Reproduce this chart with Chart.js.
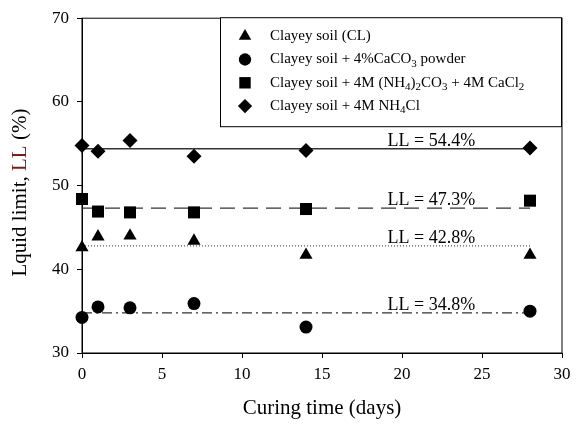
<!DOCTYPE html>
<html>
<head>
<meta charset="utf-8">
<script src="https://cdn.jsdelivr.net/npm/chart.js@4"></script>
<style>
  html, body { margin: 0; padding: 0; background: #fff; }
</style>
</head>
<body>
<canvas id="myChart" width="577" height="425"></canvas>
<script>
// curing time (days) and liquid limit (%) per mix
const days = [0, 1, 3, 7, 14, 28];
const clayeySoil = [42.6, 43.9, 44.0, 43.4, 41.7, 41.7];
const caco3Powder = [34.25, 35.5, 35.4, 35.9, 33.1, 35.0];
const carbonateChloride = [48.4, 46.9, 46.8, 46.8, 47.2, 48.2];
const ammoniumChloride = [54.8, 54.1, 55.4, 53.5, 54.2, 54.5];

// average LL lines, same order as series
const llAverage = [42.8, 34.8, 47.3, 54.4];
const lineSpan = [0, 28];

// "_x" = subscript character
const seriesNames = [
    'Clayey soil (CL)',
    'Clayey soil + 4%CaCO_3 powder',
    'Clayey soil + 4M (NH_4)_2CO_3 + 4M CaCl_2',
    'Clayey soil + 4M NH_4Cl'
];
const seriesValues = [clayeySoil, caco3Powder, carbonateChloride, ammoniumChloride];
const markers = ['triangle', 'circle', 'rect', 'rectRot'];
const markerRadius = [7.6, 6.5, 8.5, 7.5];
const lineDash = [[1, 2], [10, 4, 2, 4], [15, 8], []];

const serif = '"Liberation Serif", "Times New Roman", serif';

const datasets = [];
seriesValues.forEach((vals, i) => {
    datasets.push({
        label: seriesNames[i],
        data: days.map((d, k) => ({ x: d, y: vals[k] })),
        showLine: false,
        pointStyle: markers[i],
        pointRadius: markerRadius[i],
        pointHoverRadius: markerRadius[i],
        pointBackgroundColor: '#000',
        pointBorderWidth: 0,
        clip: false
    });
});
llAverage.forEach((ll, i) => {
    datasets.push({
        label: 'LL = ' + ll + '%',
        data: lineSpan.map(d => ({ x: d, y: ll })),
        showLine: true,
        borderColor: i === 0 ? '#555' : '#333',
        borderWidth: i === 3 ? 1.5 : 1.2,
        borderDash: lineDash[i],
        pointRadius: 0,
        clip: false
    });
});

function drawRich(ctx, text, x, y, size) {
    // draws text with _x subscripts, left aligned
    let cx = x;
    for (let i = 0; i < text.length; i++) {
        if (text[i] === '_' && i + 1 < text.length) {
            ctx.font = Math.round(size * 0.72) + 'px ' + serif;
            ctx.fillText(text[i + 1], cx, y + size * 0.28);
            cx += ctx.measureText(text[i + 1]).width;
            i++;
        } else {
            ctx.font = size + 'px ' + serif;
            ctx.fillText(text[i], cx, y);
            cx += ctx.measureText(text[i]).width;
        }
    }
}

function marker(ctx, style, r, x, y) {
    ctx.fillStyle = '#000';
    ctx.beginPath();
    if (style === 'circle') {
        ctx.arc(x, y, r, 0, Math.PI * 2);
    } else if (style === 'triangle') {
        for (let k = 0; k < 3; k++) {
            const a = k * 2 * Math.PI / 3;
            ctx.lineTo(x + Math.sin(a) * r, y - Math.cos(a) * r);
        }
    } else if (style === 'rect') {
        const s = r * Math.SQRT1_2;
        ctx.rect(x - s, y - s, 2 * s, 2 * s);
    } else {
        ctx.moveTo(x, y - r); ctx.lineTo(x + r, y); ctx.lineTo(x, y + r); ctx.lineTo(x - r, y);
    }
    ctx.closePath();
    ctx.fill();
}

const decorations = {
    id: 'decorations',
    afterDatasetsDraw(chart) {
        const ctx = chart.ctx;
        const a = chart.chartArea;
        const xs = chart.scales.x, ys = chart.scales.y;
        ctx.save();

        // plot frame
        ctx.strokeStyle = '#000';
        ctx.lineWidth = 1;
        ctx.strokeRect(a.left, a.top, a.right - a.left, a.bottom - a.top);

        // LL labels
        ctx.fillStyle = '#000';
        ctx.textAlign = 'left';
        ctx.textBaseline = 'alphabetic';
        ctx.font = '18px ' + serif;
        llAverage.forEach(ll => {
            ctx.fillText('LL = ' + ll + '%', xs.getPixelForValue(19.1), ys.getPixelForValue(ll) - 3);
        });

        // legend box
        const lx = 220, ly = a.top - 1, lw = a.right - lx, lh = 110;
        ctx.fillStyle = '#fff';
        ctx.fillRect(lx, ly, lw, lh);
        ctx.strokeStyle = '#000';
        ctx.strokeRect(lx + 0.5, ly + 0.5, lw - 1, lh - 1);
        seriesNames.forEach((name, i) => {
            const rowY = ly + 19 + i * 23.3;
            marker(ctx, markers[i], markerRadius[i] * 0.95, lx + 25, rowY);
            ctx.fillStyle = '#000';
            ctx.textBaseline = 'middle';
            drawRich(ctx, name, lx + 50, rowY, 15);
        });

        // x title
        ctx.textBaseline = 'middle';
        ctx.textAlign = 'center';
        ctx.font = '21px ' + serif;
        ctx.fillStyle = '#000';
        ctx.fillText('Curing time (days)', (a.left + a.right) / 2, 408);

        // y title, "LL" in dark red
        const parts = [['Lquid limit, ', '#000'], ['LL', '#7a1c1c'], [' (%)', '#000']];
        ctx.font = '21px ' + serif;
        const total = parts.reduce((s, p) => s + ctx.measureText(p[0]).width, 0);
        ctx.translate(20, (a.top + a.bottom) / 2 + 7);
        ctx.rotate(-Math.PI / 2);
        ctx.textAlign = 'left';
        let px = -total / 2;
        parts.forEach(p => {
            ctx.fillStyle = p[1];
            ctx.fillText(p[0], px, 0);
            px += ctx.measureText(p[0]).width;
        });
        ctx.restore();
    }
};

const ctx = document.getElementById('myChart').getContext('2d');
let myChart = new Chart(ctx, {
    type: 'scatter',
    data: { datasets: datasets },
    options: {
        responsive: false,
        animation: false,
        layout: { padding: { top: 17, right: 15, left: 0, bottom: 0 } },
        plugins: { legend: { display: false }, tooltip: { enabled: false } },
        scales: {
            x: {
                type: 'linear',
                min: 0, max: 30,
                afterFit: s => { s.height = 72; },
                ticks: { stepSize: 5, color: '#000', padding: 6, font: { family: serif, size: 17 } },
                grid: { drawOnChartArea: false, drawTicks: true, tickLength: 5, color: '#000' },
                border: { color: '#000', width: 1 }
            },
            y: {
                min: 30, max: 70,
                afterFit: s => { s.width = 82; },
                ticks: { stepSize: 10, color: '#000', padding: 8, font: { family: serif, size: 17 } },
                grid: { drawOnChartArea: false, drawTicks: true, tickLength: 5, color: '#000' },
                border: { color: '#000', width: 1 }
            }
        }
    },
    plugins: [decorations]
});
</script>
</body>
</html>
